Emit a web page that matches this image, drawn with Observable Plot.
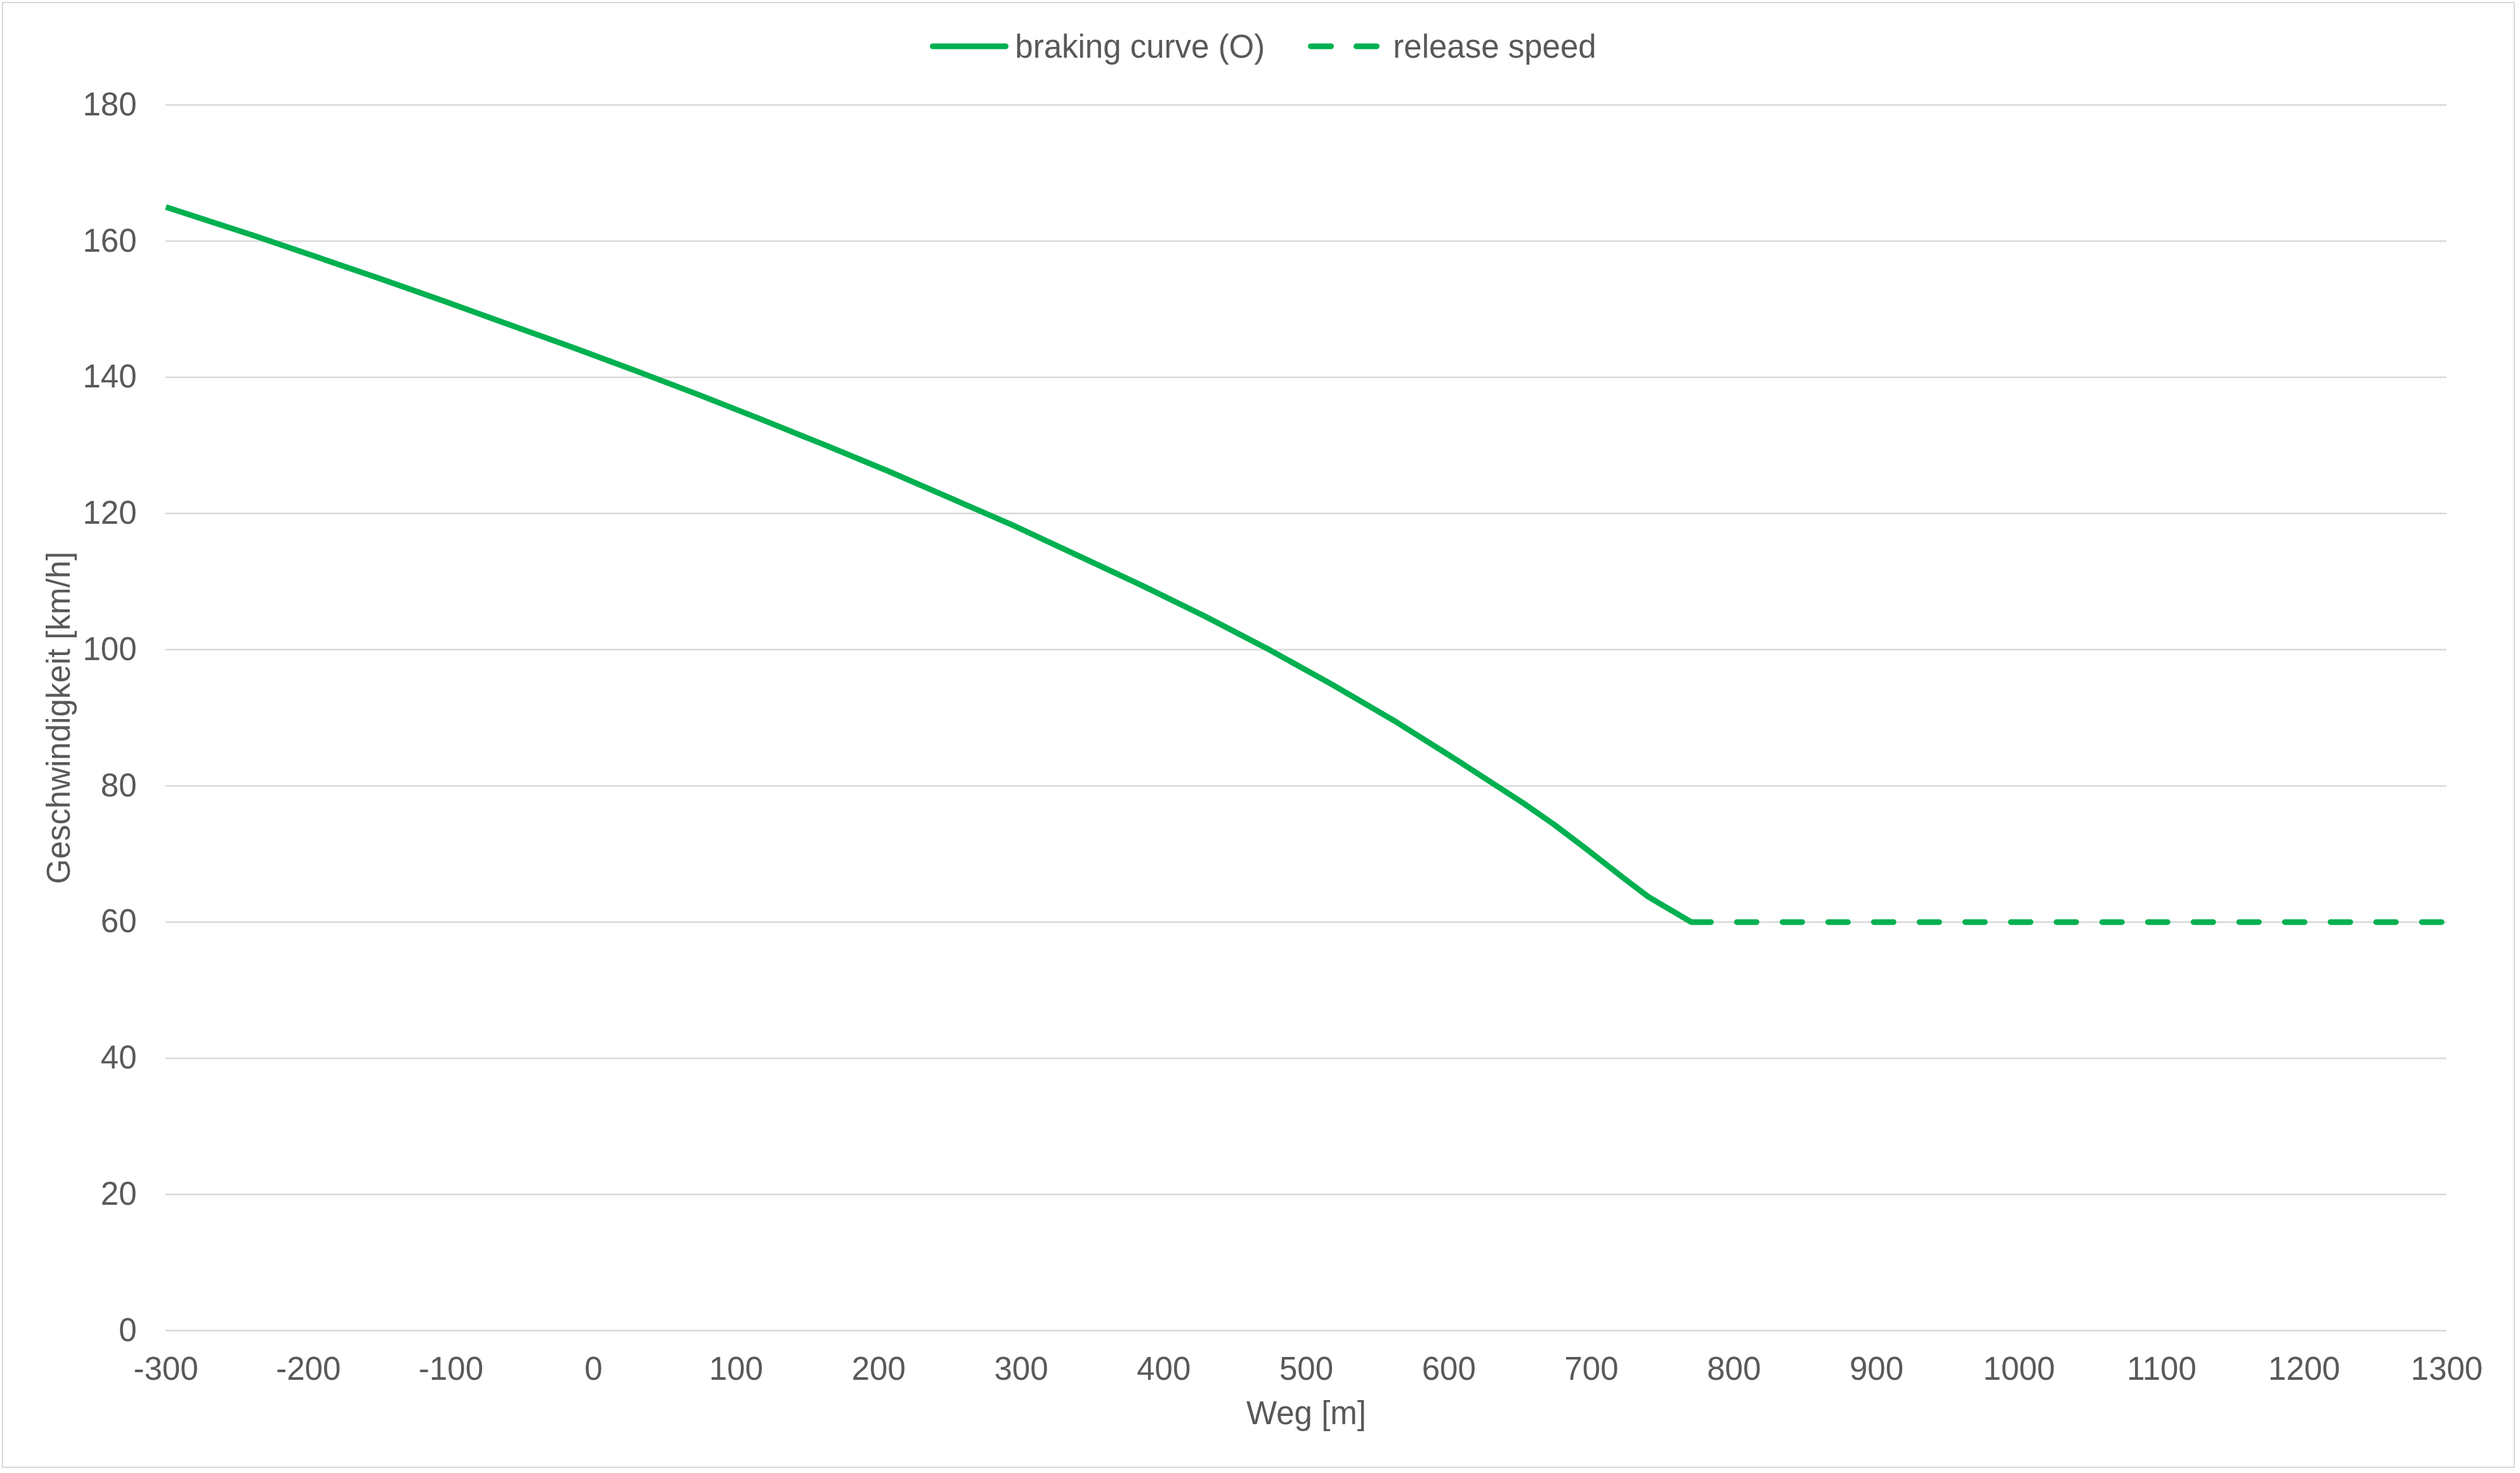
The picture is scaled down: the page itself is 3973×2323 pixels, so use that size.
<!DOCTYPE html>
<html>
<head>
<meta charset="utf-8">
<script src="https://cdn.jsdelivr.net/npm/d3@7"></script>
<script src="https://cdn.jsdelivr.net/npm/@observablehq/plot@0.6"></script>
<style>
  html, body { margin: 0; padding: 0; background: #ffffff; }
  #page { position: relative; width: 3973px; height: 2323px; overflow: hidden; background: #fff;
          font-family: "Liberation Sans", Arial, sans-serif; color: #595959; }
  #frame { position: absolute; left: 3px; top: 3px; width: 3958px; height: 2308px;
           border: 2.5px solid #d9d9d9; pointer-events: none; }
  #legend { position: absolute; left: 0; top: 0; width: 3963px; padding-left: 10px; height: 146px;
            display: flex; justify-content: center; align-items: center; font-size: 51px; }
  #legend .item { display: flex; align-items: center; }
  #legend .item + .item { margin-left: 68px; }
  #legend svg { display: block; margin-right: 10px; }
  #chart { position: absolute; left: 0; top: 120px; }
</style>
</head>
<body>
<div id="page">
  <div id="frame"></div>
  <div id="chart"></div>
  <div id="legend"></div>
</div>
<script>
// ---- data ----
const brakingWeg   = [-300, -238, -200, -150, -105, -60, -16, 29, 73, 118, 163, 207, 251, 296, 340, 385, 429, 474, 518, 563, 607, 652, 674, 696, 723, 740, 770];
const brakingSpeed = [165.0, 160.8, 158.1, 154.5, 151.2, 147.8, 144.5, 141.0, 137.5, 133.8, 130.0, 126.2, 122.2, 118.1, 113.8, 109.4, 104.9, 100.0, 94.9, 89.4, 83.6, 77.5, 74.3, 70.8, 66.4, 63.7, 60.0];
const releaseWeg   = [770, 1300];
const releaseSpeed = [60, 60];
const xTicks = [-300, -200, -100, 0, 100, 200, 300, 400, 500, 600, 700, 800, 900, 1000, 1100, 1200, 1300];
const yTicks = [0, 20, 40, 60, 80, 100, 120, 140, 160, 180];
const seriesNames = ["braking curve (O)", "release speed"];
const xTitle = "Weg [m]";
const yTitle = "Geschwindigkeit [km/h]";

const green = "#00b050";

const braking = brakingWeg.map((x, i) => ({x, y: brakingSpeed[i]}));
const release = releaseWeg.map((x, i) => ({x, y: releaseSpeed[i]}));

const chart = Plot.plot({
  width: 3973,
  height: 2203,
  marginTop: 45,
  marginBottom: 225,
  marginLeft: 261,
  marginRight: 116,
  style: {fontFamily: '"Liberation Sans", Arial, sans-serif', fontSize: "51px", color: "#595959", background: "transparent", overflow: "visible"},
  x: {domain: [-300, 1300]},
  y: {domain: [0, 180]},
  marks: [
    Plot.gridY(yTicks, {stroke: "#d9d9d9", strokeOpacity: 1, strokeWidth: 2.5}),
    Plot.axisY({ticks: yTicks, tickSize: 0, tickPadding: 46, tickFormat: d => String(d),
                label: yTitle, labelAnchor: "center", labelOffset: 188, labelArrow: "none"}),
    Plot.axisX({ticks: xTicks, tickSize: 0, tickPadding: 41, tickFormat: d => String(d),
                label: xTitle, labelAnchor: "center", labelOffset: 147, labelArrow: "none"}),
    Plot.line(braking, {x: "x", y: "y", stroke: green, strokeWidth: 9, strokeLinejoin: "round", strokeLinecap: "butt"}),
    Plot.line(release, {x: "x", y: "y", stroke: green, strokeWidth: 9, strokeLinecap: "round", strokeDasharray: "31,41"})
  ]
});
document.getElementById("chart").appendChild(chart);

// ---- legend ----
const legend = document.getElementById("legend");
const ns = "http://www.w3.org/2000/svg";
seriesNames.forEach((name, i) => {
  const item = document.createElement("div");
  item.className = "item";
  const svg = document.createElementNS(ns, "svg");
  svg.setAttribute("width", 124);
  svg.setAttribute("height", 20);
  const ln = document.createElementNS(ns, "line");
  ln.setAttribute("x1", 4.5); ln.setAttribute("x2", 119.5);
  ln.setAttribute("y1", 10); ln.setAttribute("y2", 10);
  ln.setAttribute("stroke", green);
  ln.setAttribute("stroke-width", 9);
  ln.setAttribute("stroke-linecap", "round");
  if (i === 1) ln.setAttribute("stroke-dasharray", "32,40");
  svg.appendChild(ln);
  item.appendChild(svg);
  const span = document.createElement("span");
  span.textContent = name;
  item.appendChild(span);
  legend.appendChild(item);
});
</script>
</body>
</html>
